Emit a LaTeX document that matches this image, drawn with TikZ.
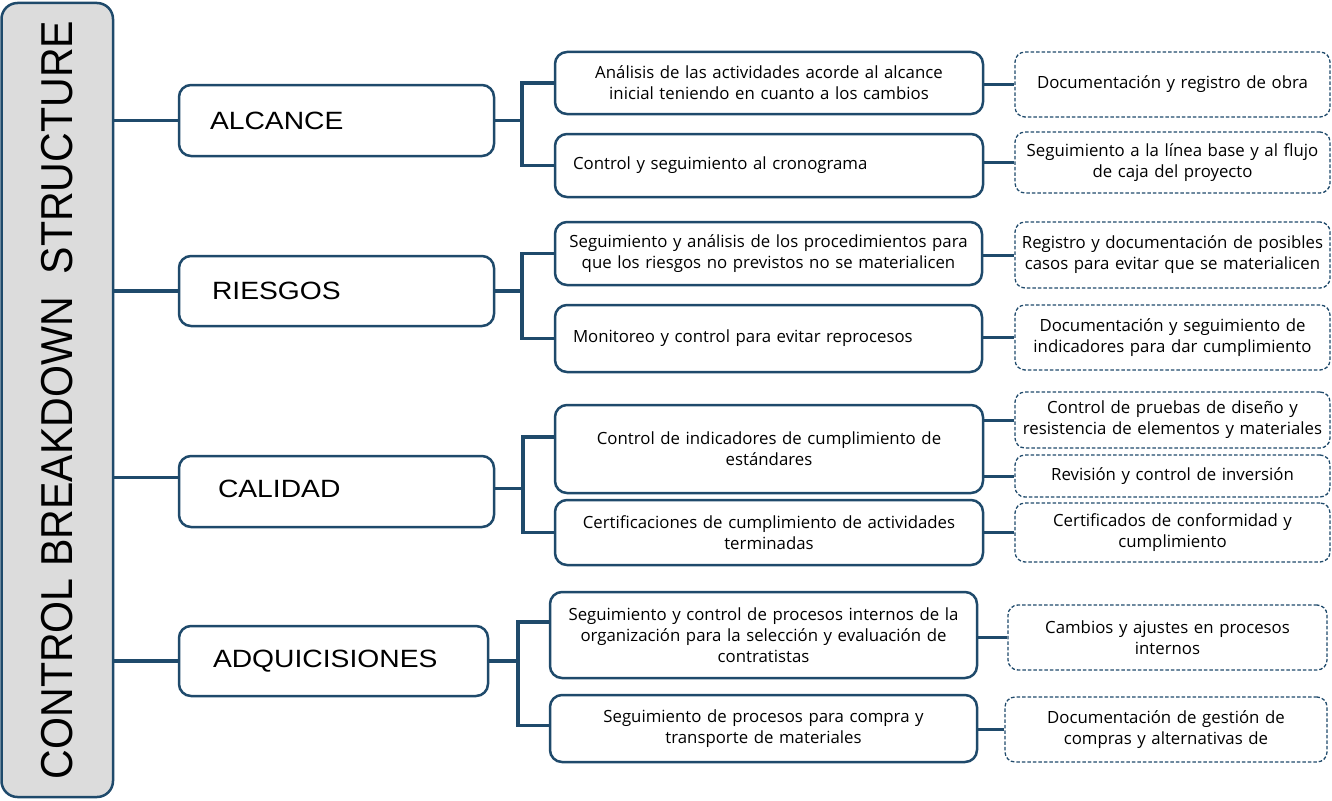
\documentclass[tikz,border=0pt]{standalone}
\usepackage{fontspec}
\setmainfont{Open Sans}
\newfontfamily\arialf{Liberation Sans}
\usepackage{graphicx}
\definecolor{navy}{HTML}{1F4A6B}
\definecolor{rootgray}{HTML}{DCDCDC}
\newcommand{\catlabel}[1]{\scalebox{1.13}[1]{#1}}
\tikzset{
  conn/.style={draw=navy, line width=3.5pt, line join=miter},
  leafconn/.style={draw=navy, line width=3pt},
  rootbox/.style={draw=navy, fill=rootgray, line width=2.5pt, rounded corners=16pt,
    minimum width=111.5pt, minimum height=794pt, inner sep=0pt},
  catbox/.style={draw=navy, line width=2.5pt, rounded corners=12pt, align=left,
    inner xsep=31pt, inner ysep=0pt, font=\arialf\fontsize{25}{30}\selectfont},
  subbox/.style={draw=navy, line width=2.5pt, rounded corners=12pt, align=center,
    inner xsep=6pt, inner ysep=0pt, font=\fontsize{16.8}{21}\selectfont},
  subleft/.style={subbox, align=left, inner xsep=18pt},
  leafbox/.style={draw=navy, line width=1.3pt, dash pattern=on 3.5pt off 2pt,
    rounded corners=10pt, align=center, inner xsep=2pt, inner ysep=0pt,
    font=\fontsize{16.8}{21}\selectfont}
}
\begin{document}
\begin{tikzpicture}[x=1pt,y=-1pt]
\useasboundingbox (0,0) rectangle (1332,800);
% root
\node[rootbox] (root) at (57.25,400) {};
\node[rotate=90, font=\arialf\fontsize{44.7}{50}\selectfont] (title) at (root.center)
  {\scalebox{0.92}[1]{CONTROL BREAKDOWN\ \ STRUCTURE}};
% categories
\node[catbox, text width=253pt, minimum height=71pt] (cat1) at (336.5,120.5) {\catlabel{ALCANCE}};
\node[catbox, text width=249pt, minimum height=70pt, inner xsep=33pt] (cat2) at (336.5,291) {\catlabel{RIESGOS}};
\node[catbox, text width=237pt, minimum height=71pt, inner xsep=39pt] (cat3) at (336.5,491.5) {\raisebox{5pt}{\catlabel{CALIDAD}}};
\node[catbox, text width=241pt, minimum height=70pt, inner xsep=34pt] (cat4) at (333.5,661) {\catlabel{ADQUICISIONES}};
% level 2
\node[subbox, text width=416pt, minimum height=62pt] (c11) at (769,83)
  {Análisis de las actividades acorde al alcance\\inicial teniendo en cuanto a los cambios};
\node[subleft, text width=392pt, minimum height=63pt] (c12) at (769,165.5)
  {Control y seguimiento al cronograma};
\node[subbox, text width=415pt, minimum height=63pt] (c21) at (768.5,253.5)
  {Seguimiento y análisis de los procedimientos para\\que los riesgos no previstos no se materialicen};
\node[subleft, text width=391pt, minimum height=67pt, inner xsep=18pt] (c22) at (768.5,338.5)
  {Monitoreo y control para evitar reprocesos};
\node[subbox, text width=416pt, minimum height=88pt] (c31) at (769,449)
  {Control de indicadores de cumplimiento de\\estándares};
\node[subbox, text width=416pt, minimum height=65pt] (c32) at (769,532.5)
  {Certificaciones de cumplimiento de actividades\\terminadas};
\node[subbox, text width=415pt, minimum height=86pt] (c41) at (763.5,635)
  {Seguimiento y control de procesos internos de la\\organización para la selección y evaluación de\\contratistas};
\node[subbox, text width=415pt, minimum height=67pt] (c42) at (763.5,728.5)
  {Seguimiento de procesos para compra y\\transporte de materiales};
% level 3
\node[leafbox, text width=311pt, minimum height=65pt] (d11) at (1172.5,84.5)
  {Documentación y registro de obra};
\node[leafbox, text width=311pt, minimum height=61pt] (d12) at (1172.5,162.5)
  {Seguimiento a la línea base y al flujo\\de caja del proyecto};
\node[leafbox, text width=311pt, minimum height=66pt] (d21) at (1172.5,255)
  {Registro y documentación de posibles\\casos para evitar que se materialicen};
\node[leafbox, text width=311pt, minimum height=65pt] (d22) at (1172.5,337.5)
  {Documentación y seguimiento de\\indicadores para dar cumplimiento};
\node[leafbox, text width=311pt, minimum height=56pt] (d31) at (1172.5,420)
  {Control de pruebas de diseño y\\resistencia de elementos y materiales};
\node[leafbox, text width=311pt, minimum height=42pt] (d32) at (1172.5,476)
  {Revisión y control de inversión};
\node[leafbox, text width=311pt, minimum height=59pt] (d33) at (1172.5,532.5)
  {Certificados de conformidad y\\cumplimiento};
\node[leafbox, text width=315pt, minimum height=65pt] (d41) at (1167.5,637.5)
  {Cambios y ajustes en procesos\\internos};
\node[leafbox, text width=318pt, minimum height=65pt] (d42) at (1166,729.5)
  {Documentación de gestión de\\compras y alternativas de};
% root connectors
\coordinate (k3) at ([yshift=14pt]cat3.west);
\draw[conn] (root.east |- cat1.west) -- (cat1.west);
\draw[conn] (root.east |- cat2.west) -- (cat2.west);
\draw[conn] (root.east |- k3) -- (k3);
\draw[conn] (root.east |- cat4.west) -- (cat4.west);
% brackets
\coordinate (br1) at ([xshift=-32pt]c12.west);
\draw[conn] (c11.west) -| (br1) -- (c12.west);
\draw[conn] (cat1.east) -- (cat1.east -| br1);
\coordinate (br2) at ([xshift=-32pt]c22.west);
\draw[conn] (c21.west) -| (br2) -- (c22.west);
\draw[conn] (cat2.east) -- (cat2.east -| br2);
\coordinate (t3) at ([yshift=12pt]c31.west);
\coordinate (br3) at ([xshift=-31pt]c32.west);
\draw[conn] (t3) -| (br3) -- (c32.west);
\draw[conn] ([yshift=3pt]cat3.east) -- ([yshift=3pt]cat3.east -| br3);
\coordinate (t4) at ([yshift=13pt]c41.west);
\coordinate (br4) at ([xshift=-31pt, yshift=3pt]c42.west);
\draw[conn] (t4) -| (br4) -- ([yshift=3pt]c42.west);
\draw[conn] (cat4.east) -- (cat4.east -| br4);
% leaf connectors
\draw[leafconn] (c11.east |- d11.west) -- (d11.west);
\draw[leafconn] (c12.east |- d12.west) -- (d12.west);
\draw[leafconn] (c21.east |- d21.west) -- (d21.west);
\draw[leafconn] (c22.east |- d22.west) -- (d22.west);
\draw[leafconn] (c31.east |- d31.west) -- (d31.west);
\draw[leafconn] (c31.east |- d32.west) -- (d32.west);
\draw[leafconn] (c32.east |- d33.west) -- (d33.west);
\draw[leafconn] (c41.east |- d41.west) -- (d41.west);
\draw[leafconn] (c42.east |- d42.west) -- (d42.west);
\end{tikzpicture}
\end{document}
